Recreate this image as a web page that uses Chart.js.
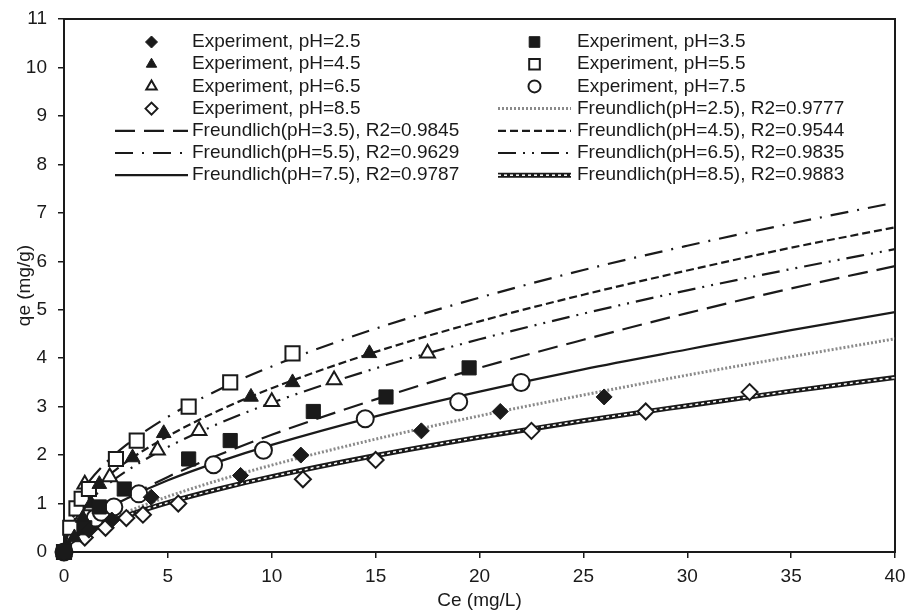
<!DOCTYPE html>
<html>
<head>
<meta charset="utf-8">
<script src="https://cdn.jsdelivr.net/npm/chart.js@4.4.0/dist/chart.umd.min.js"></script>
<style>
  html, body { margin: 0; padding: 0; background: #fff; }
</style>
</head>
<body>
<canvas id="chart" width="907" height="613"></canvas>
<script>
// experiment points: Ce (mg/L) -> qe (mg/g)
const ce25 = [0, 1.2, 2.3, 4.2, 8.5, 11.4, 17.2, 21, 26];
const qe25 = [0, 0.45, 0.66, 1.13, 1.58, 2.0, 2.5, 2.9, 3.2];
const ce35 = [0, 1.0, 1.7, 2.9, 6, 8, 12, 15.5, 19.5];
const qe35 = [0, 0.5, 0.93, 1.3, 1.92, 2.3, 2.9, 3.2, 3.8];
const ce45 = [0, 0.5, 0.9, 1.3, 1.7, 3.3, 4.8, 9, 11, 14.7];
const qe45 = [0, 0.3, 0.7, 1.0, 1.4, 1.95, 2.45, 3.2, 3.5, 4.1];
const ce55 = [0, 0.3, 0.6, 0.85, 1.2, 2.5, 3.5, 6, 8, 11];
const qe55 = [0, 0.5, 0.9, 1.1, 1.3, 1.92, 2.3, 3.0, 3.5, 4.1];
const ce65 = [0, 0.8, 1.3, 1.0, 2.2, 4.5, 6.5, 10, 13, 17.5];
const qe65 = [0, 0.68, 0.95, 1.4, 1.55, 2.1, 2.5, 3.1, 3.55, 4.1];
const ce75 = [0, 1.5, 1.8, 2.4, 3.6, 7.2, 9.6, 14.5, 19, 22];
const qe75 = [0, 0.7, 0.82, 0.93, 1.2, 1.8, 2.1, 2.75, 3.1, 3.5];
const ce85 = [0, 1.0, 2.0, 3.0, 3.8, 5.5, 11.5, 15, 22.5, 28, 33];
const qe85 = [0, 0.3, 0.5, 0.7, 0.77, 1.0, 1.5, 1.9, 2.5, 2.9, 3.3];

// Freundlich curves at these Ce values
const fitCe = [0, 0.25, 0.5, 1, 2, 3, 5, 7.5, 10, 15, 20, 25, 30, 35, 40];
const fit25 = [0, 0.165, 0.258, 0.404, 0.633, 0.823, 1.144, 1.488, 1.793, 2.33, 2.81, 3.24, 3.65, 4.03, 4.40];
const fit35 = [0, 0.223, 0.349, 0.546, 0.855, 1.11, 1.55, 2.01, 2.42, 3.15, 3.80, 4.38, 4.93, 5.44, 5.90];
const fit45 = [0, 0.544, 0.767, 1.08, 1.52, 1.86, 2.39, 2.93, 3.38, 4.13, 4.76, 5.31, 5.81, 6.28, 6.70];
const fit55 = [0, 0.709, 0.973, 1.336, 1.834, 2.21, 2.79, 3.36, 3.83, 4.61, 5.25, 5.82, 6.32, 6.78, 7.21];
const fit65 = [0, 0.470, 0.669, 0.953, 1.357, 1.669, 2.166, 2.66, 3.08, 3.79, 4.39, 4.92, 5.40, 5.84, 6.25];
const fit75 = [0, 0.261, 0.389, 0.582, 0.870, 1.10, 1.48, 1.87, 2.21, 2.80, 3.31, 3.77, 4.18, 4.58, 4.95];
const fit85 = [0, 0.166, 0.253, 0.385, 0.586, 0.749, 1.021, 1.306, 1.555, 1.99, 2.37, 2.71, 3.02, 3.32, 3.60];

const INK = "#1a1a1a";
const FONT = '"Liberation Sans", Arial, sans-serif';

function pts(xs, ys) {
  return xs.map((x, i) => ({ x: x, y: ys[i] }));
}

function exp(label, xs, ys, style, r, filled) {
  return {
    label: label,
    data: pts(xs, ys),
    showLine: false,
    pointStyle: style,
    pointRadius: r,
    pointHoverRadius: r,
    backgroundColor: filled ? INK : "#fff",
    borderColor: INK,
    borderWidth: filled ? 1 : 2,
    clip: false,
    order: 0,
  };
}

function fit(label, ys, color, width, dash, extra) {
  return Object.assign({
    label: label,
    data: pts(fitCe, ys),
    showLine: true,
    pointRadius: 0,
    borderColor: color,
    borderWidth: width,
    borderDash: dash,
    fill: false,
    cubicInterpolationMode: "monotone",
    order: 3,
  }, extra || {});
}

const datasets = [
  exp("Experiment, pH=2.5", ce25, qe25, "rectRot", 8, true),
  exp("Experiment, pH=3.5", ce35, qe35, "rect", 10, true),
  exp("Experiment, pH=4.5", ce45, qe45, "triangle", 8.5, true),
  exp("Experiment, pH=5.5", ce55, qe55, "rect", 10, false),
  exp("Experiment, pH=6.5", ce65, qe65, "triangle", 8.5, false),
  exp("Experiment, pH=7.5", ce75, qe75, "circle", 8.5, false),
  exp("Experiment, pH=8.5", ce85, qe85, "rectRot", 8, false),
  fit("Freundlich(pH=2.5), R2=0.9777", fit25, "#8a8a8a", 3, [2, 2]),
  fit("Freundlich(pH=3.5), R2=0.9845", fit35, INK, 2.2, [20, 9]),
  fit("Freundlich(pH=4.5), R2=0.9544", fit45, INK, 2.2, [8, 4]),
  fit("Freundlich(pH=5.5), R2=0.9629", fit55, INK, 2.2, [18, 9, 2, 9]),
  fit("Freundlich(pH=6.5), R2=0.9835", fit65, INK, 2.2, [18, 7, 2, 7, 2, 7]),
  fit("Freundlich(pH=7.5), R2=0.9787", fit75, INK, 2.2, []),
  fit("Freundlich(pH=8.5), R2=0.9883", fit85, INK, 5, [], { stripe: true, order: 2 }),
  // white stitching on top of the thick pH=8.5 line
  fit("", fit85, "#fff", 1.5, [3, 3], { legendSkip: true, order: 1 }),
];

function marker(ctx, style, x, y, r, fill, lw) {
  ctx.beginPath();
  if (style === "circle") {
    ctx.arc(x, y, r, 0, Math.PI * 2);
  } else if (style === "rect") {
    const s = r * Math.SQRT1_2;
    ctx.rect(x - s, y - s, 2 * s, 2 * s);
  } else if (style === "rectRot") {
    ctx.moveTo(x - r, y); ctx.lineTo(x, y - r); ctx.lineTo(x + r, y); ctx.lineTo(x, y + r);
    ctx.closePath();
  } else if (style === "triangle") {
    const a = 2 * Math.PI / 3;
    ctx.moveTo(x, y - r);
    ctx.lineTo(x + Math.sin(a) * r, y - Math.cos(a) * r);
    ctx.lineTo(x + Math.sin(2 * a) * r, y - Math.cos(2 * a) * r);
    ctx.closePath();
  }
  ctx.fillStyle = fill;
  ctx.fill();
  ctx.lineWidth = lw;
  ctx.strokeStyle = INK;
  ctx.stroke();
}

// frame around the plot area
const framePlugin = {
  id: "frame",
  beforeDatasetsDraw(chart) {
    const a = chart.chartArea, ctx = chart.ctx;
    ctx.save();
    ctx.strokeStyle = INK;
    ctx.lineWidth = 2;
    ctx.strokeRect(a.left, a.top, a.right - a.left, a.bottom - a.top);
    ctx.restore();
  },
};

// two-column legend inside the plot, row by row
const legendPlugin = {
  id: "gridLegend",
  afterDraw(chart) {
    const ctx = chart.ctx;
    const items = chart.data.datasets.filter(d => !d.legendSkip);
    ctx.save();
    ctx.font = "19px " + FONT;
    ctx.textBaseline = "middle";
    items.forEach((ds, i) => {
      const col = i % 2, row = Math.floor(i / 2);
      const y = 42 + row * 22.2;
      const sx = col === 0 ? 115 : 498;
      const sw = 73;
      const tx = col === 0 ? 192 : 577;
      if (ds.showLine) {
        ctx.save();
        ctx.beginPath();
        ctx.moveTo(sx, y);
        ctx.lineTo(sx + sw, y);
        ctx.strokeStyle = ds.borderColor;
        ctx.lineWidth = ds.borderWidth;
        ctx.setLineDash(ds.borderDash || []);
        ctx.stroke();
        if (ds.stripe) {
          ctx.beginPath();
          ctx.moveTo(sx, y);
          ctx.lineTo(sx + sw, y);
          ctx.strokeStyle = "#fff";
          ctx.lineWidth = 1.5;
          ctx.setLineDash([3, 3]);
          ctx.stroke();
        }
        ctx.restore();
      } else {
        const r = ds.pointStyle === "rect" ? 7.5 : 6;
        marker(ctx, ds.pointStyle, sx + sw / 2, y, r, ds.backgroundColor, ds.borderWidth);
      }
      ctx.fillStyle = INK;
      ctx.fillText(ds.label, tx, y);
    });
    ctx.restore();
  },
};

const config = {
  type: "scatter",
  data: { datasets: datasets },
  options: {
    responsive: false,
    animation: false,
    events: [],
    layout: { padding: { top: 19, right: 12, left: 0, bottom: 0 } },
    plugins: {
      legend: { display: false },
      tooltip: { enabled: false },
    },
    scales: {
      x: {
        type: "linear",
        min: 0,
        max: 40,
        afterFit: (scale) => {
          scale.height = 61;
          scale.paddingLeft = 0;
          scale.paddingRight = 0;
        },
        ticks: { stepSize: 5, color: INK, padding: 7, font: { family: FONT, size: 19 } },
        grid: { drawOnChartArea: false, drawTicks: true, tickLength: 6, color: INK, lineWidth: 1.5 },
        border: { display: true, color: INK, width: 2 },
        title: {
          display: true,
          text: "Ce (mg/L)",
          color: INK,
          font: { family: FONT, size: 19 },
          padding: { top: 0, bottom: 1 },
        },
      },
      y: {
        type: "linear",
        min: 0,
        max: 11,
        afterFit: (scale) => {
          scale.width = 64;
          scale.paddingTop = 0;
          scale.paddingBottom = 0;
        },
        ticks: { stepSize: 1, color: INK, padding: 11, font: { family: FONT, size: 19 } },
        grid: { drawOnChartArea: false, drawTicks: true, tickLength: 6, color: INK, lineWidth: 1.5 },
        border: { display: true, color: INK, width: 2 },
        title: {
          display: true,
          text: "qe (mg/g)",
          color: INK,
          font: { family: FONT, size: 19 },
          padding: { top: 13, bottom: 0 },
        },
      },
    },
  },
  plugins: [framePlugin, legendPlugin],
};

new Chart(document.getElementById("chart").getContext("2d"), config);
</script>
</body>
</html>
